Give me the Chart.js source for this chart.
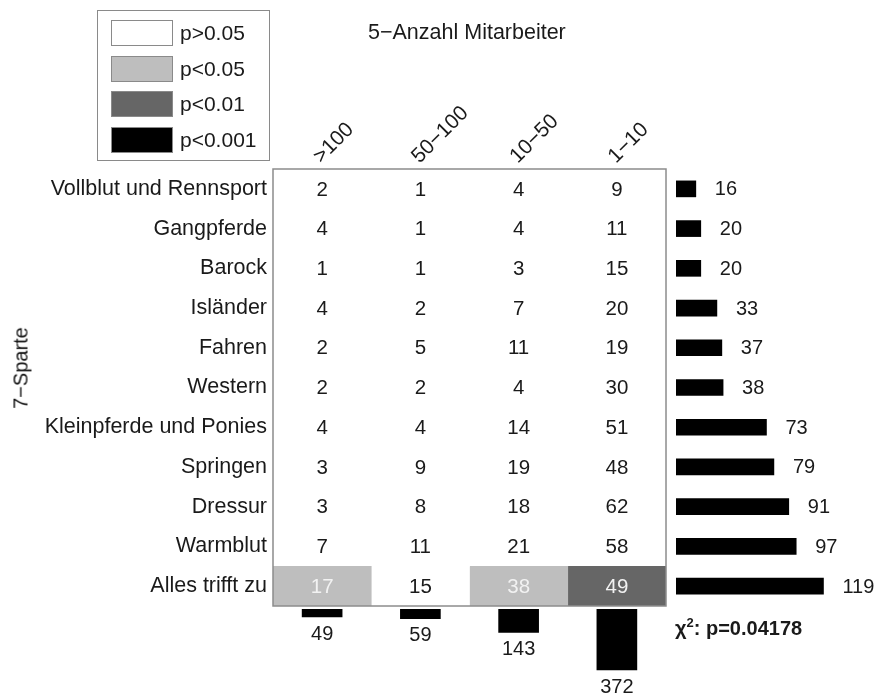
<!DOCTYPE html>
<html lang="de">
<head>
<meta charset="utf-8">
<title>Sparte x Anzahl Mitarbeiter</title>
<script src="https://cdn.jsdelivr.net/npm/chart.js@4.4.0/dist/chart.umd.min.js"></script>
<style>
    body { margin: 0; background: #fff; font-family: "Liberation Sans", Arial, sans-serif; color: #1a1a1a; }
    #page { position: relative; width: 878px; height: 693px; overflow: hidden; }
    canvas { position: absolute; }
    #legende { position: absolute; left: 97px; top: 10px; width: 171px; height: 149px; border: 1.5px solid #8a8a8a; }
    .eintrag { position: absolute; left: 13px; height: 26px; display: flex; align-items: center; }
    .farbe { width: 60px; height: 24px; border: 1px solid #8a8a8a; margin-right: 7px; }
    .eintrag span { font-size: 21px; }
    #titel { position: absolute; left: 368px; top: 20px; font-size: 21.5px; white-space: nowrap; }
    #ytitel { position: absolute; left: 21px; top: 368px; font-size: 20px; white-space: nowrap; color: #111;
              transform: translate(-50%, -50%) rotate(-90deg); }
    #chi { position: absolute; left: 675px; top: 615px; font-size: 20px; font-weight: bold; white-space: nowrap; }
    #chi sup { font-size: 13px; }
</style>
</head>
<body>
<div id="page">
    <canvas id="tabelle" width="878" height="693" style="left:0;top:0"></canvas>
    <canvas id="zeilen" width="202" height="437" style="left:676px;top:169px"></canvas>
    <canvas id="spalten" width="393" height="84" style="left:273px;top:609px"></canvas>
    <div id="legende"></div>
    <div id="titel">5−Anzahl Mitarbeiter</div>
    <div id="ytitel">7−Sparte</div>
    <div id="chi">χ<sup>2</sup>: p=0.04178</div>
</div>
<script>
// Zeilen (Sparte) und Spalten (Anzahl Mitarbeiter)
const sparten = ['Vollblut und Rennsport', 'Gangpferde', 'Barock', 'Isländer', 'Fahren', 'Western',
    'Kleinpferde und Ponies', 'Springen', 'Dressur', 'Warmblut', 'Alles trifft zu'];
const mitarbeiter = ['>100', '50−100', '10−50', '1−10'];

// Häufigkeiten je Spalte, von oben nach unten
const anz100plus = [2, 4, 1, 4, 2, 2, 4, 3, 3, 7, 17];
const anz50bis100 = [1, 1, 1, 2, 5, 2, 4, 9, 8, 11, 15];
const anz10bis50 = [4, 4, 3, 7, 11, 4, 14, 19, 18, 21, 38];
const anz1bis10 = [9, 11, 15, 20, 19, 30, 51, 48, 62, 58, 49];

// Signifikanzstufe je Zelle: 0 p>0.05, 1 p<0.05, 2 p<0.01, 3 p<0.001
const sig100plus = [0, 0, 0, 0, 0, 0, 0, 0, 0, 0, 1];
const sig50bis100 = [0, 0, 0, 0, 0, 0, 0, 0, 0, 0, 0];
const sig10bis50 = [0, 0, 0, 0, 0, 0, 0, 0, 0, 0, 1];
const sig1bis10 = [0, 0, 0, 0, 0, 0, 0, 0, 0, 0, 2];

const zeilenSummen = [16, 20, 20, 33, 37, 38, 73, 79, 91, 97, 119];
const spaltenSummen = [49, 59, 143, 372];

const stufenLabels = ['p>0.05', 'p<0.05', 'p<0.01', 'p<0.001'];
const stufenFarben = ['#ffffff', '#bebebe', '#666666', '#000000'];

const schrift = '"Liberation Sans", Arial, sans-serif';

document.addEventListener('DOMContentLoaded', function() {
    const anzahlen = [anz100plus, anz50bis100, anz10bis50, anz1bis10];
    const stufen = [sig100plus, sig50bis100, sig10bis50, sig1bis10];

    // Legende
    const legende = document.getElementById('legende');
    const tops = [9, 45, 80, 116];
    stufenLabels.forEach((lab, i) => {
        const e = document.createElement('div');
        e.className = 'eintrag';
        e.style.top = tops[i] + 'px';
        e.innerHTML = `<div class="farbe" style="background:${stufenFarben[i]}"></div><span>${lab}</span>`;
        legende.appendChild(e);
    });

    const tabellenText = {
        id: 'tabellenText',
        afterDatasetsDraw(chart) {
            const ctx = chart.ctx;
            const area = chart.chartArea;
            ctx.save();
            ctx.font = `20.5px ${schrift}`;
            ctx.textAlign = 'center';
            ctx.textBaseline = 'middle';
            chart.data.datasets.forEach((ds, d) => {
                chart.getDatasetMeta(d).data.forEach((el, i) => {
                    ctx.fillStyle = stufen[d][i] > 0 ? '#f2f2f2' : '#1a1a1a';
                    ctx.fillText(String(anzahlen[d][i]), (el.x + el.base) / 2, el.y + 1);
                });
            });
            // Rahmen
            ctx.strokeStyle = '#8c8c8c';
            ctx.lineWidth = 1.5;
            ctx.strokeRect(area.left, area.top, area.right - area.left, area.bottom - area.top);
            // Spaltenköpfe schräg
            const xs = chart.scales.x;
            ctx.fillStyle = '#1a1a1a';
            ctx.font = `21px ${schrift}`;
            ctx.textAlign = 'left';
            ctx.textBaseline = 'alphabetic';
            mitarbeiter.forEach((lab, j) => {
                ctx.save();
                ctx.translate(xs.getPixelForValue(j + 0.5) - 1, area.top - 5);
                ctx.rotate(-Math.PI / 4);
                ctx.fillText(lab, 0, 0);
                ctx.restore();
            });
            ctx.restore();
        }
    };

    new Chart(document.getElementById('tabelle'), {
        type: 'bar',
        data: {
            labels: sparten,
            datasets: mitarbeiter.map((lab, j) => ({
                label: lab,
                data: sparten.map(() => 1),
                backgroundColor: stufen[j].map(s => stufenFarben[s]),
                borderWidth: 0,
                categoryPercentage: 1,
                barPercentage: 1
            }))
        },
        options: {
            indexAxis: 'y',
            responsive: false,
            animation: false,
            layout: { padding: { top: 169, bottom: 87, right: 212, left: 0 } },
            plugins: { legend: { display: false }, tooltip: { enabled: false } },
            scales: {
                x: { type: 'linear', stacked: true, min: 0, max: 4, display: false },
                y: {
                    stacked: true,
                    grid: { display: false, drawTicks: false },
                    border: { display: false },
                    ticks: { padding: 6, color: '#1a1a1a', font: { size: 21.5, family: schrift } },
                    afterFit: (scale) => { scale.width = 273; }
                }
            }
        },
        plugins: [tabellenText]
    });

    // Zeilensummen rechts
    const zeilenText = {
        id: 'zeilenText',
        afterDatasetsDraw(chart) {
            const ctx = chart.ctx;
            ctx.save();
            ctx.font = `20px ${schrift}`;
            ctx.fillStyle = '#1a1a1a';
            ctx.textAlign = 'left';
            ctx.textBaseline = 'middle';
            chart.getDatasetMeta(0).data.forEach((el, i) => {
                ctx.fillText(String(zeilenSummen[i]), el.x + 19, el.y + 1);
            });
            ctx.restore();
        }
    };

    new Chart(document.getElementById('zeilen'), {
        type: 'bar',
        data: {
            labels: sparten,
            datasets: [{ data: zeilenSummen, backgroundColor: '#000', barThickness: 16 }]
        },
        options: {
            indexAxis: 'y',
            responsive: false,
            animation: false,
            layout: { padding: 0 },
            plugins: { legend: { display: false }, tooltip: { enabled: false } },
            scales: {
                x: { min: 0, max: 163, display: false },
                y: { display: false }
            }
        },
        plugins: [zeilenText]
    });

    // Spaltensummen unten
    const spaltenText = {
        id: 'spaltenText',
        afterDatasetsDraw(chart) {
            const ctx = chart.ctx;
            ctx.save();
            ctx.font = `20px ${schrift}`;
            ctx.fillStyle = '#1a1a1a';
            ctx.textAlign = 'center';
            ctx.textBaseline = 'top';
            chart.getDatasetMeta(0).data.forEach((el, i) => {
                ctx.fillText(String(spaltenSummen[i]), el.x, el.y + 7);
            });
            ctx.restore();
        }
    };

    new Chart(document.getElementById('spalten'), {
        type: 'bar',
        data: {
            labels: mitarbeiter,
            datasets: [{ data: spaltenSummen, backgroundColor: '#000', barThickness: 40 }]
        },
        options: {
            responsive: false,
            animation: false,
            layout: { padding: 0 },
            plugins: { legend: { display: false }, tooltip: { enabled: false } },
            scales: {
                x: { display: false },
                y: { min: 0, max: 512, reverse: true, display: false }
            }
        },
        plugins: [spaltenText]
    });
});
</script>
</body>
</html>
